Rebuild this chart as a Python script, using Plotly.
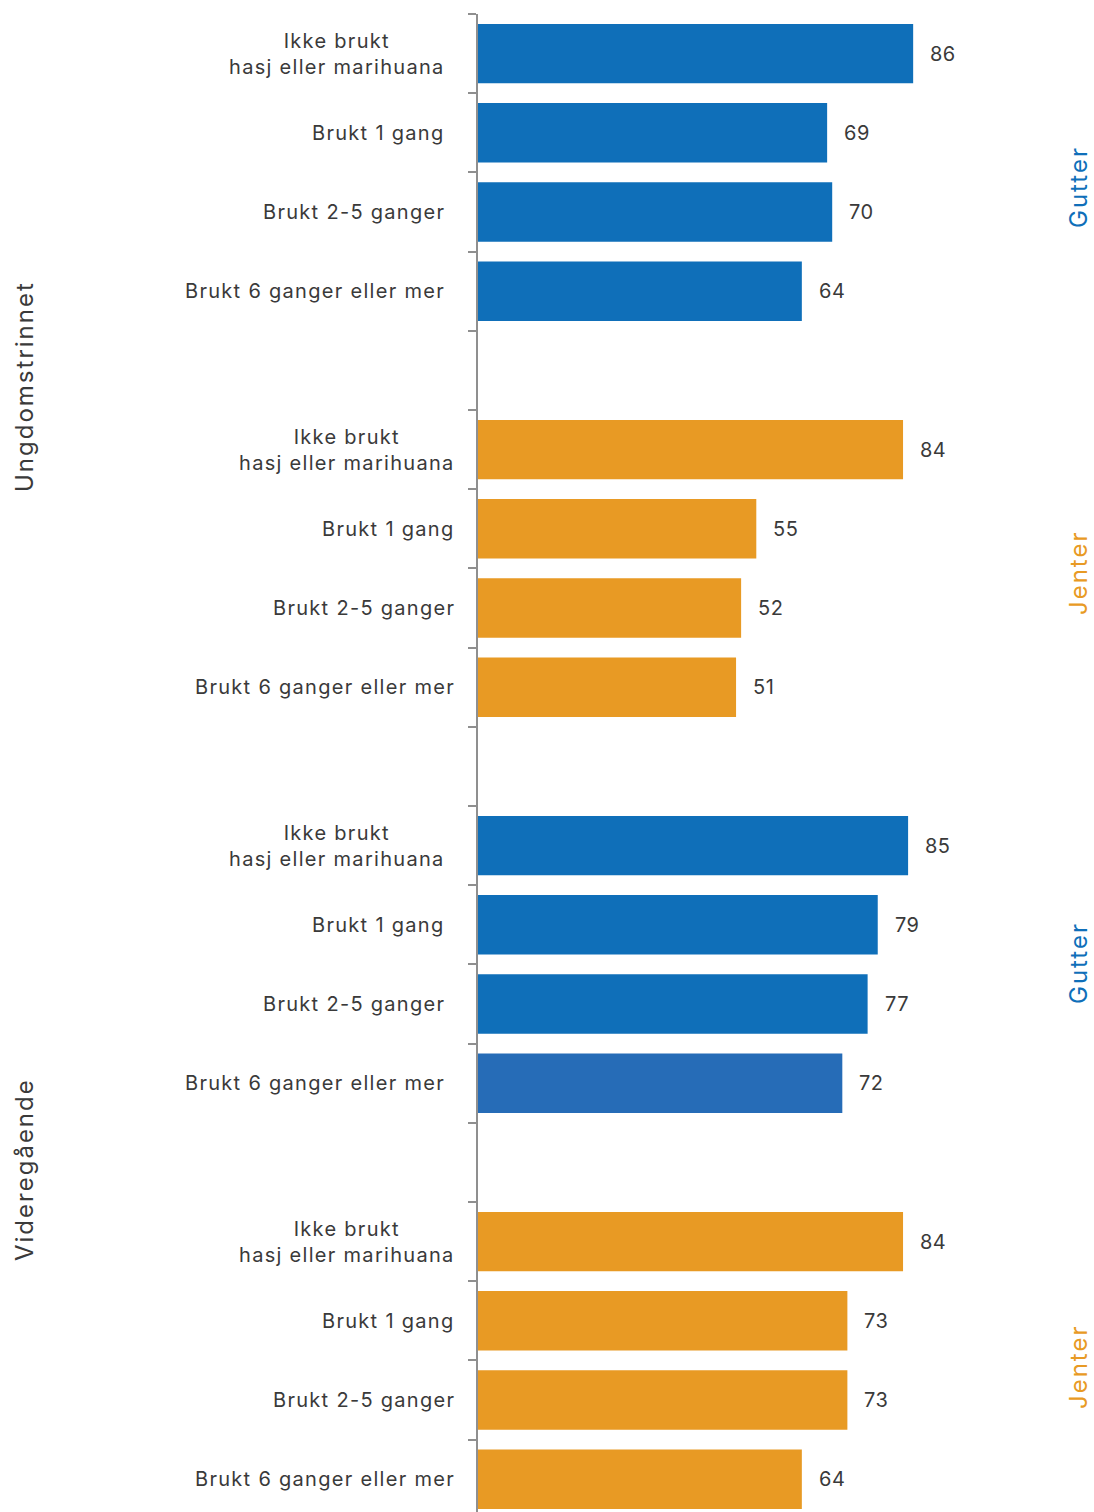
import plotly.graph_objects as go

categories = ["Ikke brukt<br>hasj eller marihuana", "Brukt 1 gang", "Brukt 2-5 ganger", "Brukt 6 ganger eller mer"]
groups = ["Gutter", "Jenter", "Gutter", "Jenter"]
levels = ["Ungdomstrinnet", "Videregående"]
ungdom_gutter = [86, 69, 70, 64]
ungdom_jenter = [84, 55, 52, 51]
vgs_gutter = [85, 79, 77, 72]
vgs_jenter = [84, 73, 73, 64]
series = [ungdom_gutter, ungdom_jenter, vgs_gutter, vgs_jenter]

BLUE = "#0F6FB9"
BLUE2 = "#266CB7"
ORANGE = "#E89A24"
TEXT = "#3a3a3a"
FONT = "Inter"

W, H = 1094, 1512
L, R, T = 478, 110, 14
plot_h = H - T
slot = 79.2
n_visible = plot_h / slot


def spaced(txt, ls):
    parts = txt.split("<br>")
    return "<br>".join(f'<span style="letter-spacing:{ls}px">{p}</span>' for p in parts)


fig = go.Figure()
annotations = []
for g, vals in enumerate(series):
    color = BLUE if groups[g] == "Gutter" else ORANGE
    ys = [g * 5 + i for i in range(len(vals))]
    colors = [color] * len(vals)
    if g == 2:
        colors[3] = BLUE2
    fig.add_trace(go.Bar(x=vals, y=ys, orientation="h", marker=dict(color=colors, line=dict(width=0)),
                         showlegend=False, hoverinfo="skip"))
    shift = -31 if groups[g] == "Gutter" else -21
    for i, (v, y) in enumerate(zip(vals, ys)):
        annotations.append(dict(x=v, y=y, xref="x", yref="y", text=spaced(str(round(v)), 0.5), showarrow=False,
                                xanchor="left", xshift=15, font=dict(size=20, color=TEXT, family=FONT)))
        annotations.append(dict(x=0, y=y, xref="x", yref="y", text=spaced(categories[i], 1.3), showarrow=False,
                                xanchor="right", align="center", xshift=shift,
                                font=dict(size=20, color=TEXT, family=FONT)))


def py2paper(py):
    return 1 - (py - T) / plot_h


def px2paper(px):
    return (px - L) / (W - L - R)


side_pos = [187, 573, 963, 1367]
for g, py in enumerate(side_pos):
    color = BLUE if groups[g] == "Gutter" else ORANGE
    annotations.append(dict(x=px2paper(1078), y=py2paper(py), xref="paper", yref="paper", text=spaced(groups[g], 2),
                            textangle=-90, showarrow=False, xanchor="center", yanchor="middle",
                            font=dict(size=24, color=color, family=FONT)))
for lv, py in zip(levels, [387, 1170]):
    annotations.append(dict(x=px2paper(24), y=py2paper(py), xref="paper", yref="paper", text=spaced(lv, 2),
                            textangle=-90, showarrow=False, xanchor="center", yanchor="middle",
                            font=dict(size=24, color=TEXT, family=FONT)))

tickvals = [k - 0.5 for k in range(20)]
fig.update_layout(
    width=W, height=H, margin=dict(l=L, r=R, t=T, b=0, pad=0),
    plot_bgcolor="white", paper_bgcolor="white", bargap=0.25, barmode="overlay",
    annotations=annotations,
    xaxis=dict(range=[0, 100], visible=False, fixedrange=True),
    yaxis=dict(range=[-0.5 + n_visible, -0.5], tickmode="array", tickvals=tickvals, showticklabels=False,
               ticks="outside", ticklen=8, tickwidth=2, tickcolor="#8f8f8f", showline=True,
               linecolor="#8f8f8f", linewidth=2, showgrid=False, zeroline=False),
)
fig.write_html("out.html")
